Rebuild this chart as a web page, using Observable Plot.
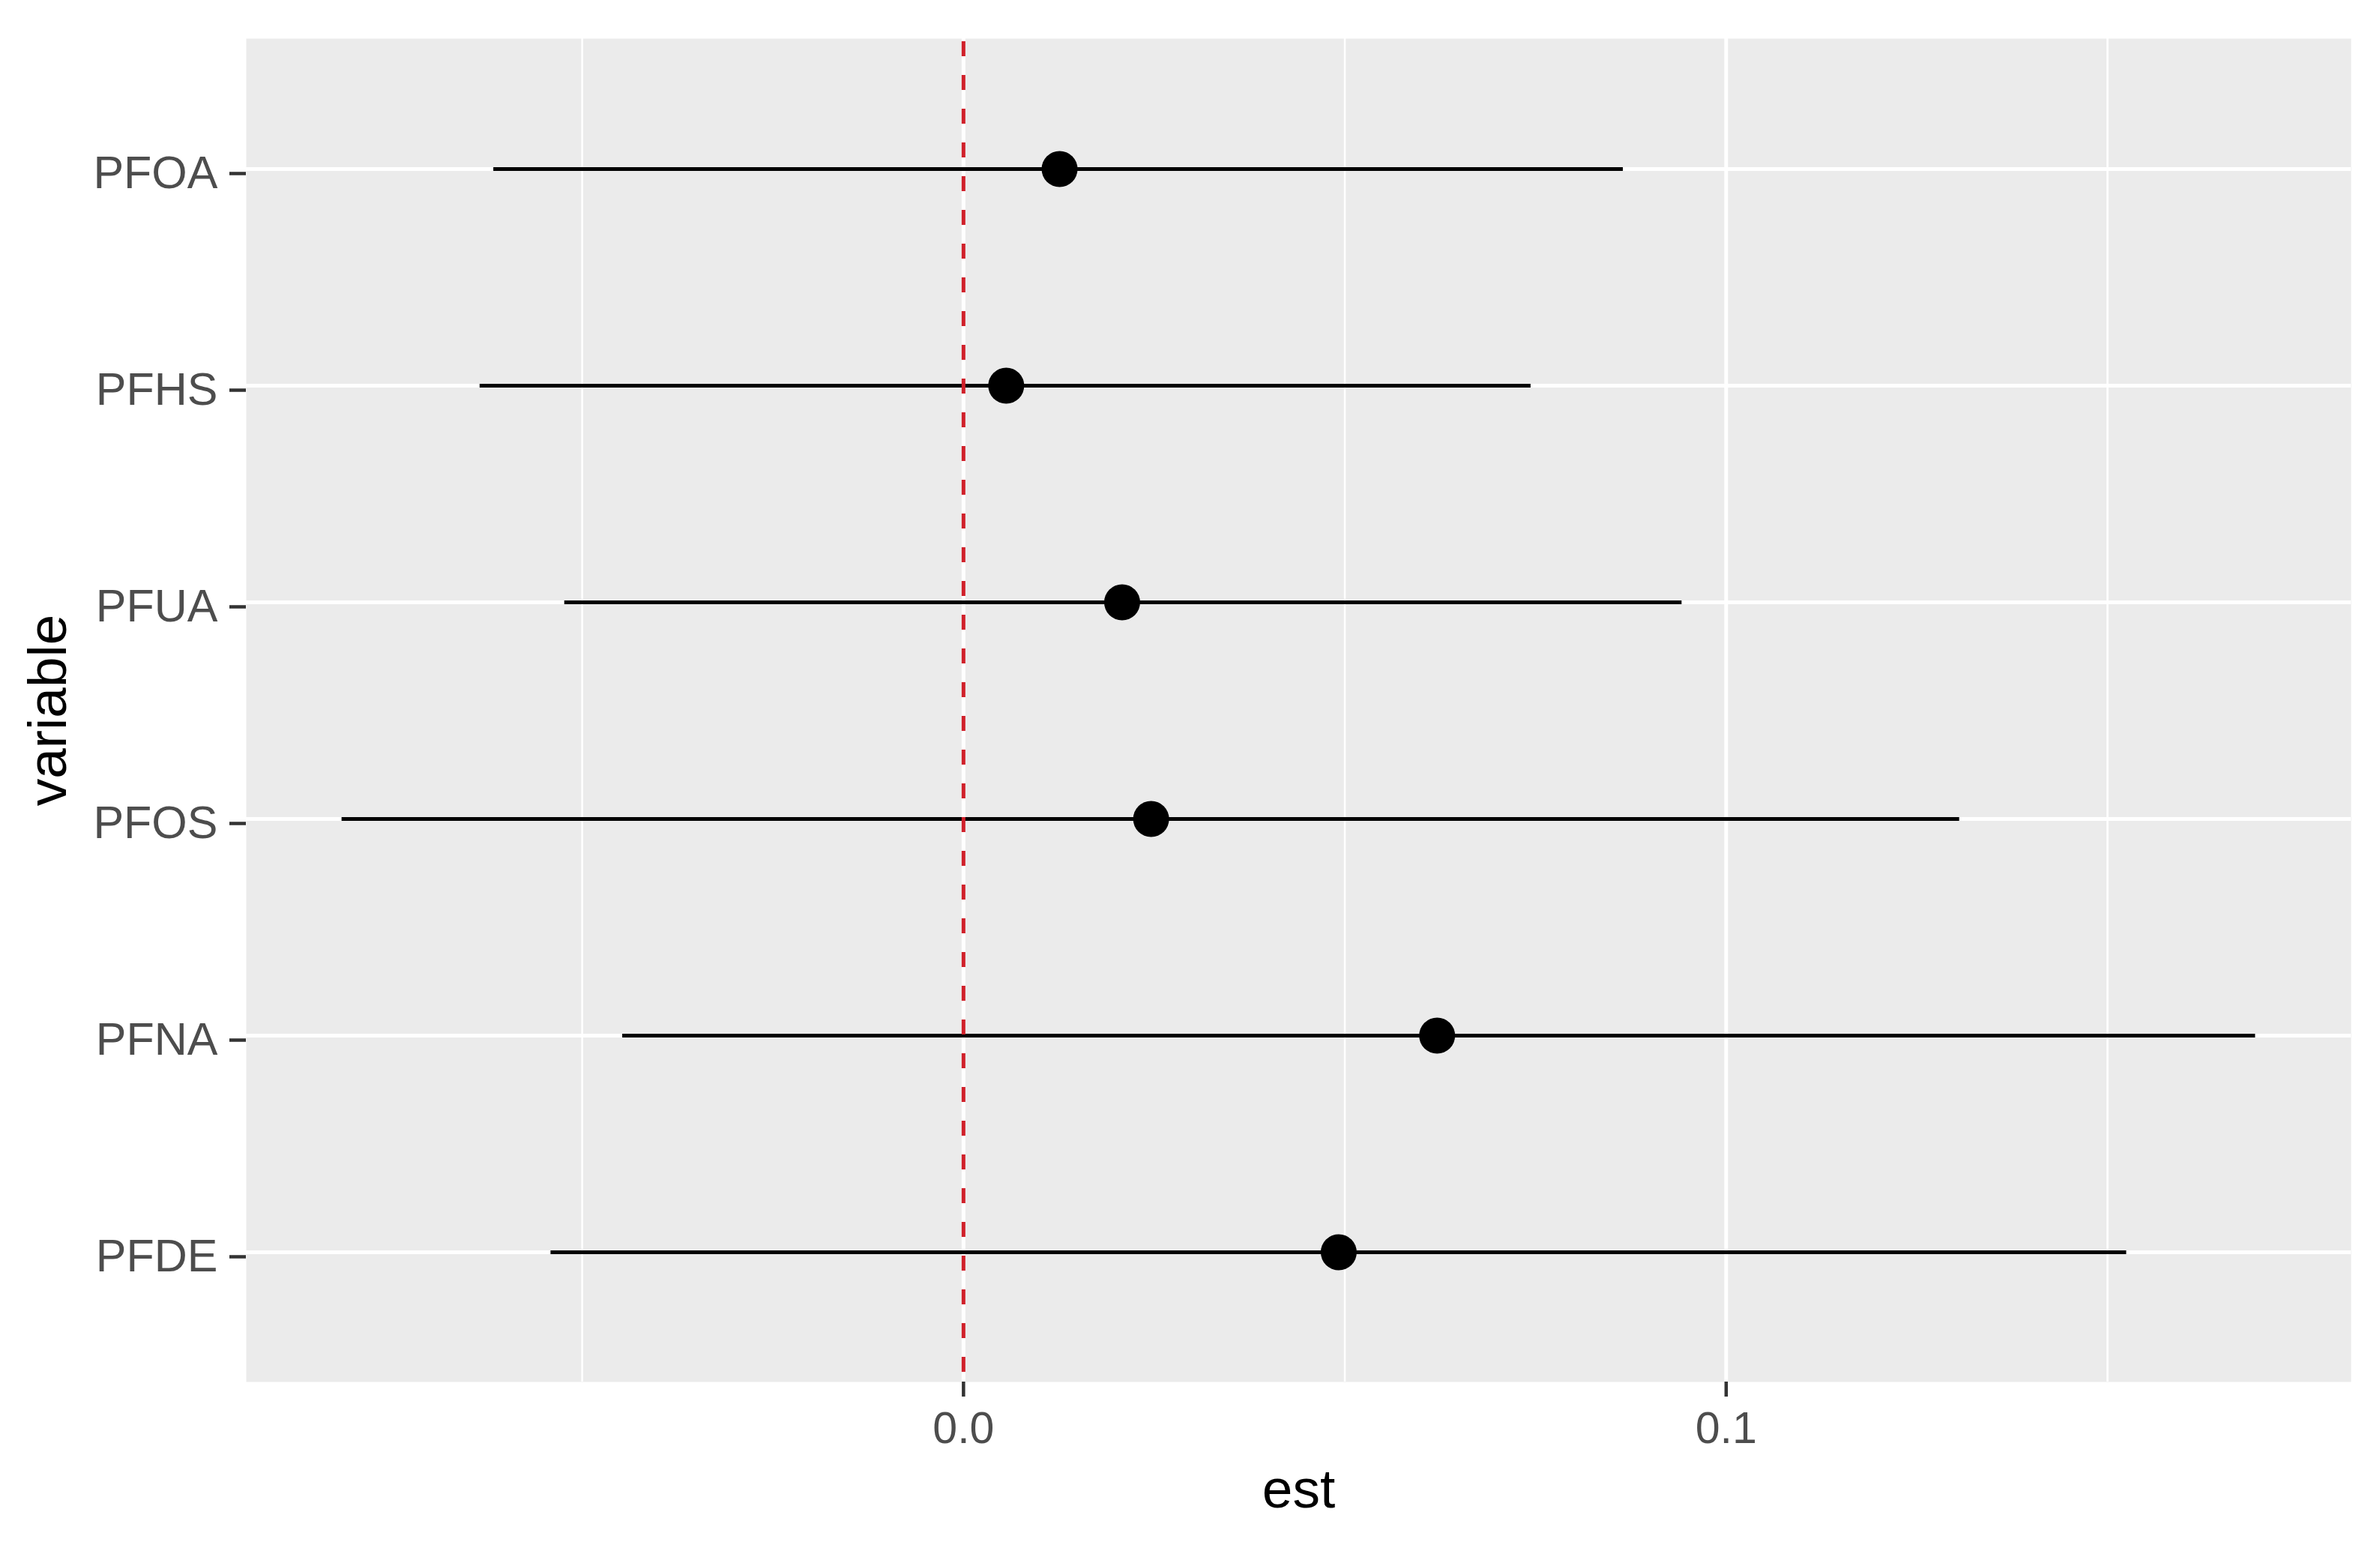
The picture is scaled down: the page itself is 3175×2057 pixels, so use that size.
<!DOCTYPE html>
<html>
<head>
<meta charset="utf-8">
<script src="https://cdn.jsdelivr.net/npm/d3@7"></script>
<script src="https://cdn.jsdelivr.net/npm/@observablehq/plot@0.6"></script>
<style>
  html, body { margin: 0; padding: 0; background: #ffffff; }
  svg { display: block; }
</style>
</head>
<body>
<div id="chart"></div>
<script>
// ---- data ----
const variables = ["PFOA", "PFHS", "PFUA", "PFOS", "PFNA", "PFDE"];
const estimates = [0.0126, 0.0056, 0.0208, 0.0246, 0.0621, 0.0492];
const lowers    = [-0.0616, -0.0634, -0.0523, -0.0815, -0.0447, -0.0541];
const uppers    = [0.0865, 0.0744, 0.0942, 0.1306, 0.1694, 0.1525];
const xMajorTicks = [0.0, 0.1];
const xMinorTicks = [-0.05, 0.05, 0.15];
const refLine = [0];

const rows = variables.map((v, i) => ({variable: v, est: estimates[i], lo: lowers[i], hi: uppers[i]}));

// ggplot-like 5% expansion of the continuous axis
const lo = d3.min(lowers), hi = d3.max(uppers);
const pad = (hi - lo) * 0.05;

const W = 3175, H = 2057;
const font = "'Liberation Sans', Arial, Helvetica, sans-serif";

const chart = Plot.plot({
  width: W,
  height: H,
  marginLeft: 328,
  marginRight: 39,
  marginTop: 51,
  marginBottom: 214,
  style: {fontFamily: font, background: "#ffffff"},
  x: {domain: [lo - pad, hi + pad], axis: null},
  y: {type: "point", domain: variables, padding: 0.6, axis: null},
  marks: [
    Plot.frame({fill: "#EBEBEB", stroke: null}),
    Plot.gridX(xMinorTicks, {stroke: "#ffffff", strokeOpacity: 1, strokeWidth: 2.5}),
    Plot.gridX(xMajorTicks, {stroke: "#ffffff", strokeOpacity: 1, strokeWidth: 5}),
    Plot.gridY(variables, {stroke: "#ffffff", strokeOpacity: 1, strokeWidth: 5}),
    Plot.ruleY(rows, {y: "variable", x1: "lo", x2: "hi", stroke: "#000000", strokeWidth: 5}),
    Plot.dot(rows, {x: "est", y: "variable", r: 24, fill: "#000000", stroke: null}),
    Plot.ruleX(refLine, {stroke: "#D0202A", strokeWidth: 5, strokeDasharray: "20,25", strokeDashoffset: -4}),
    Plot.axisX(xMajorTicks, {
      anchor: "bottom", tickSize: 20, tickPadding: 20, tickFormat: d => d.toFixed(1),
      fontSize: 59, fill: "#4D4D4D", stroke: "#333333", strokeWidth: 4.5, label: null
    }),
    Plot.axisY(variables, {
      anchor: "left", tickSize: 22, tickPadding: 16,
      fontSize: 61, fill: "#4D4D4D", stroke: "#333333", strokeWidth: 4.5, label: null, dy: 6
    }),
    Plot.text(["est"], {frameAnchor: "bottom", lineAnchor: "middle", textAnchor: "middle", dy: 144, fontSize: 73, fill: "#000000"}),
    Plot.text(["variable"], {frameAnchor: "left", lineAnchor: "middle", textAnchor: "middle", rotate: -90, dx: -264, fontSize: 73, fill: "#000000"})
  ]
});

document.getElementById("chart").appendChild(chart);
</script>
</body>
</html>
